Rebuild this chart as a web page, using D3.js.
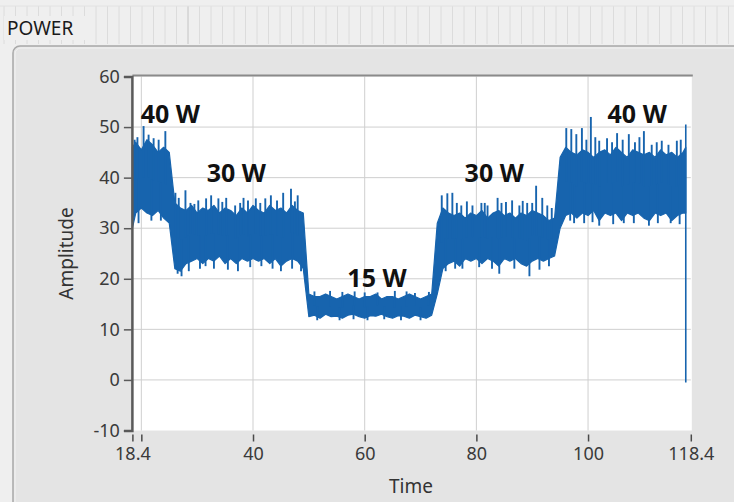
<!DOCTYPE html>
<html><head><meta charset="utf-8">
<script src="https://cdn.jsdelivr.net/npm/d3@7"></script>
<style>
html,body{margin:0;padding:0;background:#efefef;}
svg{display:block;}
</style></head>
<body>
<svg id="c" width="734" height="502"></svg>
<script>
// ---- data ----
const time = [18.4,19,20,21,22,23,24,25,26,27,28,29,30,31,32,33,34,35,36,37,38,39,40,41,42,43,44,45,46,47,48,49,
  50,51,52,53,54,55,56,57,58,59,60,61,62,63,64,65,66,67,68,69,70,71,72,73,74,75,76,77,78,79,80,81,82,83,84,85,86,87,88,89,
  90,91,92,93,94,95,96,97,98,99,100,101,102,103,104,105,106,107,108,109,110,111,112,113,114,115,116,117,117.5];
const upper = [46,47,45.5,47.5,46.5,45,46,45,35,34,33.5,34.5,33,34,33.5,34.5,33,34,33.5,32.5,34,33,34.5,33.5,33,34.5,33.5,34,33,34.5,33.5,33,
  17,16.5,16.5,17,16.5,16,16.5,17,16.5,16,16.5,16.5,17,16,16.5,16.5,16,16.5,17,16.5,16,16.5,17,31,34,33,32.5,33,32,33,32.5,33.5,32,33,33.5,32.5,33,32,33,32.5,
  33.5,33,32.5,31.5,32,44,46,45,44.5,45.5,45,44,45,45.5,44.5,46,45,44,45.5,45,44.5,45,44,45.5,44.5,45,44,45,46];
const lower = [30,33,34,33,32.5,33.5,32,31,22,21.5,23,23.5,24,23,24,23.5,24.5,23,24,23,24,23.5,24,23.5,24,23,24,22.5,23.5,24,23.5,22,
  12.5,12.8,12.2,13,12.5,12.6,12.2,12.8,13,12.5,12.2,12.7,12.6,13,12.5,12.2,12.7,12.6,12.2,12.8,12.5,12.2,12.8,17,22,23,23.5,22.5,24,23.5,24,23,24,23.5,22.5,24,23.5,24,23,22.5,
  23.5,24,23.5,24,24.5,30,32.5,33,32,33,32.5,33.5,31.5,33,32.5,33,31.5,33,32.5,33,32,31.5,33,32.5,33,31.5,32.5,33,33];
const spikeTime = [18.8,19.3,20.4,21.3,22.2,23.1,24.3,
  26.1,26.7,27.9,28.8,29.5,30.2,31.6,32.5,33.8,34.5,35.2,36.8,37.7,38.3,39.1,40.5,41.3,42.2,43.2,44.3,45.4,46.8,47.5,48.0,
  51.0,53.8,56.0,58.2,60.0,62.3,65.4,67.5,69.0,71.5,
  73.8,74.8,75.7,76.5,77.3,78.3,79.3,80.9,81.5,82.0,83.8,84.5,85.3,86.4,87.7,88.3,89.1,90.0,90.7,91.8,92.7,93.5,
  96.1,97.0,97.9,98.9,99.7,100.5,101.3,102.0,103.4,104.3,105.2,106.2,107.3,108.4,109.2,110.0,111.4,112.3,113.2,114.4,115.9,116.6];
const spikeValue = [47.5,48,50.2,48.5,47.8,47.5,49.2,
  37,36,37.5,35,34.8,35.5,35.9,36.5,35.9,35.2,36,34.5,35,36,35.5,35.9,35,35.9,36.5,35.5,37,37.8,35.3,36.5,
  17.5,17.6,17.4,17.5,17.3,17.3,17.6,17.5,17.2,17.4,
  36.5,36.9,37,35,34.5,35.3,34.5,35,35,34.5,36,35,35.2,35.5,34.5,35.4,35,35,38.4,36,34.5,34,
  49.8,49.6,48.6,49.8,47.5,52,48,47.3,47.8,47,48.8,47.5,48.6,47,48,49.2,46.5,47,47.3,46.5,47.3,47.5];
const dipTime = [19.5,21.8,23.5,
  26.5,27.2,28.5,30.5,31.5,33.0,35.5,37.3,39.5,41.5,43.5,45.0,47.0,48.6,
  51.5,55.5,58.0,60.5,63.5,66.5,70.0,
  74.5,76.2,77.5,80.5,82.8,84.1,86.8,89.5,91.3,93.0,
  96.8,97.5,99.3,100.8,102.0,104.5,106.4,108.2,110.9,112.5,114.8,116.4];
const dipValue = [31,31.5,31.5,
  21,20.5,21.5,22,22.5,22,21.8,21.5,22.3,22.5,22,21.5,22,21.5,
  11.8,11.8,12,11.8,12,11.8,11.8,
  21.5,22,22,22.3,22,21,22,20.5,21.8,22.5,
  31.5,31,31,31.2,30.5,30.8,31,31,30.5,31,31,30.8];
const dropTime = [117.5,117.5];
const dropValue = [50.5,-0.5];
const xTicks = [18.4,20,40,60,80,100,118.4];
const xTickLabels = ["18.4","","40","60","80","100","118.4"];
const yTicks = [-10,0,10,20,30,40,50,60];
const xGrid = [20,40,60,80,100];
const yGrid = [0,10,20,30,40,50];
const labelText = ["40 W","30 W","15 W","30 W","40 W"];
const labelTime = [25.2,37.0,62.2,83.2,108.8];
const labelValue = [50.8,39.2,18.4,39.2,50.8];

// ---- drawing ----
const svg = d3.select("#c");
const blue = "#1764ae";
const x = d3.scaleLinear().domain([18.4,118.4]).range([132.4,690.8]);
const y = d3.scaleLinear().domain([-10,60]).range([430.5,76.5]);

// header strip with faint grid
svg.append("rect").attr("x",0).attr("y",0).attr("width",734).attr("height",502).attr("fill","#efefef");
const hg = svg.append("g");
for (let gx = 4; gx < 734; gx += 11.5) {
  hg.append("line").attr("x1",gx).attr("x2",gx).attr("y1",6).attr("y2",44)
    .attr("stroke", gx > 180 && gx < 190 ? "#c4c4c4" : "#dcdcdc").attr("stroke-width",1);
}
hg.append("line").attr("x1",0).attr("x2",734).attr("y1",6).attr("y2",6).attr("stroke","#e2e2e2");
svg.append("rect").attr("x",4).attr("y",16).attr("width",86).attr("height",24).attr("fill","#efefef");
svg.append("text").attr("x",7).attr("y",35).text("POWER")
  .attr("font-family","'Noto Sans', sans-serif").attr("font-size",19).attr("fill","#1a1a1a");

// panel
svg.append("rect").attr("x",13).attr("y",46).attr("width",760).attr("height",480).attr("rx",7)
  .attr("fill","#e4e4e4").attr("stroke","#a8a8a8").attr("stroke-width",1.5);
svg.append("rect").attr("x",15).attr("y",48).attr("width",760).attr("height",480).attr("rx",6)
  .attr("fill","none").attr("stroke","#f2f2f2").attr("stroke-width",1);

// plot background
svg.append("rect").attr("x",x(18.4)).attr("y",y(60)).attr("width",x(118.4)-x(18.4)+1).attr("height",y(-10)-y(60))
  .attr("fill","#ffffff");

// grid
const g = svg.append("g");
g.selectAll(".vg").data(xGrid).join("line")
  .attr("x1",d=>x(d)).attr("x2",d=>x(d)).attr("y1",y(60)).attr("y2",y(-10))
  .attr("stroke","#cfcfcf").attr("stroke-width",1);
g.selectAll(".hg").data(yGrid).join("line")
  .attr("x1",x(18.4)).attr("x2",x(118.4)).attr("y1",d=>y(d)).attr("y2",d=>y(d))
  .attr("stroke","#cfcfcf").attr("stroke-width",1);

// waveform body
const pts = time.map((t,i)=>({t, hi:upper[i], lo:lower[i]}));
const area = d3.area().x(d=>x(d.t)).y0(d=>y(d.lo)).y1(d=>y(d.hi));
svg.append("path").datum(pts).attr("d",area).attr("fill",blue).attr("stroke",blue).attr("stroke-width",1.2)
  .attr("stroke-linejoin","round");

function mid(t){
  const i = Math.max(1, Math.min(time.length-1, d3.bisectLeft(time,t)));
  const t0 = time[i-1], t1 = time[i];
  const f = (t - t0)/(t1 - t0);
  const h = upper[i-1] + (upper[i]-upper[i-1])*f;
  const l = lower[i-1] + (lower[i]-lower[i-1])*f;
  return (h+l)/2;
}
const wave = svg.append("g").attr("stroke",blue).attr("stroke-width",1.9).attr("stroke-linecap","butt");
wave.selectAll(".sp").data(spikeTime.map((t,i)=>({t,v:spikeValue[i]}))).join("line")
  .attr("x1",d=>x(d.t)).attr("x2",d=>x(d.t)).attr("y1",d=>y(d.v)).attr("y2",d=>y(mid(d.t)));
wave.selectAll(".dp").data(dipTime.map((t,i)=>({t,v:dipValue[i]}))).join("line")
  .attr("x1",d=>x(d.t)).attr("x2",d=>x(d.t)).attr("y1",d=>y(d.v)).attr("y2",d=>y(mid(d.t)));
svg.append("path").datum(dropTime.map((t,i)=>[t,dropValue[i]]))
  .attr("d",d3.line().x(d=>x(d[0])).y(d=>y(d[1])))
  .attr("stroke",blue).attr("stroke-width",1.6).attr("fill","none");

// plot top border
svg.append("line").attr("x1",x(18.4)).attr("x2",x(118.4)+2).attr("y1",y(60)-1).attr("y2",y(60)-1)
  .attr("stroke","#8a8a8a").attr("stroke-width",2);

// y axis
const font = "'Noto Sans', 'Open Sans', sans-serif";
const yAxis = d3.axisLeft(y).tickValues(yTicks).tickSize(8).tickPadding(4).tickFormat(d=>String(d));
const ya = svg.append("g").attr("transform",`translate(${x(18.4)-0.5},0)`).call(yAxis);
ya.select(".domain").attr("stroke","#5a5a5a").attr("stroke-width",2.5);
ya.selectAll(".tick line").attr("stroke","#5a5a5a").attr("stroke-width",1.5);
ya.selectAll(".tick text").attr("font-family",font).attr("font-size",18).attr("fill","#3a3a3a");

// x axis
const xAxis = d3.axisBottom(x).tickValues(xTicks).tickSize(7).tickPadding(6)
  .tickFormat((d,i)=>xTickLabels[i]);
const xa = svg.append("g").attr("transform",`translate(0,${y(-10)+4})`).call(xAxis);
xa.select(".domain").remove();
xa.selectAll(".tick line").attr("stroke","#4a4a4a").attr("stroke-width",1.5);
xa.selectAll(".tick text").attr("font-family",font).attr("font-size",18).attr("fill","#3a3a3a");

// axis titles
svg.append("text").attr("transform",`translate(73,${(y(60)+y(-10))/2}) rotate(-90)`)
  .attr("text-anchor","middle").attr("font-family",font).attr("font-size",19).attr("fill","#333").text("Amplitude");
svg.append("text").attr("x",411).attr("y",493).attr("text-anchor","middle")
  .attr("font-family",font).attr("font-size",19).attr("fill","#333").text("Time");

// power labels
svg.append("g").selectAll("text").data(labelText).join("text")
  .attr("x",(d,i)=>x(labelTime[i])).attr("y",(d,i)=>y(labelValue[i]))
  .attr("text-anchor","middle").attr("font-family","'Open Sans', sans-serif").attr("font-weight",700)
  .attr("font-size",25).attr("fill","#111").text(d=>d);
</script>
</body></html>
